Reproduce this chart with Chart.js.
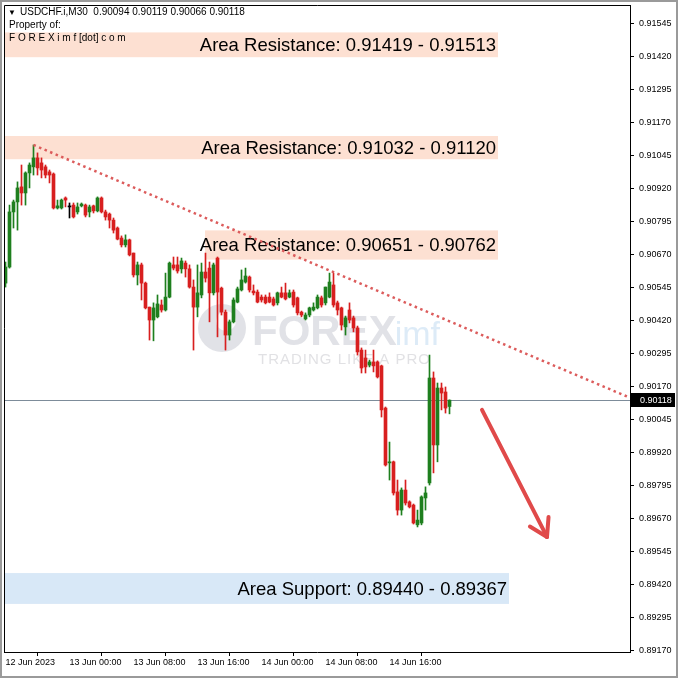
<!DOCTYPE html>
<html>
<head>
<meta charset="utf-8">
<script src="https://cdn.jsdelivr.net/npm/chart.js@4.4.0/dist/chart.umd.min.js"></script>
<style>
  html, body { margin: 0; padding: 0; background: #fff; }
  canvas { display: block; }
</style>
</head>
<body>
<canvas id="grafico" width="678" height="678"></canvas>
<script>
// USDCHF.i M30 - candles (index 0 = 12 Jun 16:00)
const opens = [
  0.90562, 0.90623, 0.90832, 0.90870, 0.90927, 0.90904, 0.90980, 0.91003, 0.91037, 0.91018,
  0.91003, 0.90984, 0.90976, 0.90847, 0.90847, 0.90885, 0.90851, 0.90858, 0.90832, 0.90855,
  0.90858, 0.90832, 0.90855, 0.90836, 0.90885, 0.90832, 0.90824, 0.90801, 0.90771, 0.90733,
  0.90707, 0.90726, 0.90676, 0.90593, 0.90631, 0.90562, 0.90471, 0.90422, 0.90434, 0.90479,
  0.90460, 0.90509, 0.90631, 0.90631, 0.90616, 0.90638, 0.90616, 0.90547, 0.90471, 0.90517,
  0.90604, 0.90619, 0.90525, 0.90657, 0.90543, 0.90452, 0.90365, 0.90415, 0.90490, 0.90536,
  0.90566, 0.90585, 0.90532, 0.90528, 0.90509, 0.90509, 0.90509, 0.90502, 0.90487, 0.90525,
  0.90525, 0.90509, 0.90528, 0.90506, 0.90452, 0.90426, 0.90441, 0.90460, 0.90468, 0.90506,
  0.90487, 0.90509, 0.90555, 0.90487, 0.90468, 0.90396, 0.90460, 0.90430, 0.90392, 0.90308,
  0.90278, 0.90251, 0.90263, 0.90263, 0.90248, 0.90088, 0.89880, 0.89884, 0.89770, 0.89701,
  0.89777, 0.89732, 0.89720, 0.89645, 0.89652, 0.89747, 0.89804, 0.90202, 0.89948, 0.90164,
  0.90149, 0.90094
];
const highs = [
  0.90642, 0.90858, 0.90877, 0.90946, 0.91010, 0.90984, 0.91018, 0.91086, 0.91056, 0.91037,
  0.91010, 0.90991, 0.90980, 0.90877, 0.90881, 0.90889, 0.90866, 0.90866, 0.90866, 0.90866,
  0.90862, 0.90858, 0.90858, 0.90889, 0.90889, 0.90839, 0.90828, 0.90809, 0.90775, 0.90741,
  0.90745, 0.90729, 0.90676, 0.90642, 0.90638, 0.90566, 0.90471, 0.90487, 0.90517, 0.90498,
  0.90600, 0.90642, 0.90661, 0.90661, 0.90657, 0.90646, 0.90631, 0.90574, 0.90631, 0.90638,
  0.90676, 0.90642, 0.90638, 0.90661, 0.90547, 0.90460, 0.90422, 0.90506, 0.90547, 0.90612,
  0.90619, 0.90589, 0.90555, 0.90536, 0.90517, 0.90517, 0.90525, 0.90509, 0.90528, 0.90547,
  0.90562, 0.90536, 0.90536, 0.90509, 0.90456, 0.90449, 0.90471, 0.90487, 0.90517, 0.90513,
  0.90547, 0.90600, 0.90600, 0.90494, 0.90471, 0.90437, 0.90487, 0.90437, 0.90399, 0.90316,
  0.90308, 0.90270, 0.90308, 0.90267, 0.90251, 0.90092, 0.89959, 0.89887, 0.89815, 0.89785,
  0.89815, 0.89736, 0.89724, 0.89701, 0.89755, 0.89789, 0.90289, 0.90225, 0.90183, 0.90183,
  0.90168, 0.90119
];
const lows = [
  0.90547, 0.90619, 0.90771, 0.90763, 0.90858, 0.90858, 0.90923, 0.90972, 0.90972, 0.90961,
  0.90961, 0.90942, 0.90843, 0.90843, 0.90843, 0.90851, 0.90809, 0.90809, 0.90824, 0.90851,
  0.90813, 0.90813, 0.90828, 0.90832, 0.90828, 0.90801, 0.90771, 0.90752, 0.90726, 0.90699,
  0.90699, 0.90665, 0.90585, 0.90555, 0.90498, 0.90464, 0.90346, 0.90343, 0.90430, 0.90452,
  0.90456, 0.90506, 0.90612, 0.90600, 0.90600, 0.90585, 0.90543, 0.90308, 0.90434, 0.90506,
  0.90566, 0.90415, 0.90517, 0.90358, 0.90441, 0.90308, 0.90346, 0.90411, 0.90487, 0.90532,
  0.90562, 0.90528, 0.90517, 0.90487, 0.90490, 0.90483, 0.90487, 0.90475, 0.90479, 0.90506,
  0.90498, 0.90506, 0.90471, 0.90441, 0.90434, 0.90422, 0.90434, 0.90456, 0.90464, 0.90471,
  0.90479, 0.90506, 0.90471, 0.90441, 0.90384, 0.90365, 0.90411, 0.90377, 0.90289, 0.90221,
  0.90221, 0.90244, 0.90225, 0.90202, 0.90054, 0.89868, 0.89815, 0.89758, 0.89682, 0.89682,
  0.89720, 0.89709, 0.89648, 0.89637, 0.89645, 0.89701, 0.89796, 0.89842, 0.89884, 0.90081,
  0.90069, 0.90066
];
const closes = [
  0.90623, 0.90832, 0.90870, 0.90923, 0.90904, 0.90980, 0.91010, 0.91037, 0.90999, 0.90991,
  0.90972, 0.90972, 0.90847, 0.90855, 0.90877, 0.90877, 0.90851, 0.90813, 0.90851, 0.90862,
  0.90820, 0.90851, 0.90836, 0.90885, 0.90832, 0.90813, 0.90801, 0.90763, 0.90729, 0.90707,
  0.90726, 0.90669, 0.90593, 0.90631, 0.90562, 0.90468, 0.90422, 0.90468, 0.90483, 0.90460,
  0.90509, 0.90638, 0.90619, 0.90608, 0.90646, 0.90616, 0.90547, 0.90471, 0.90525, 0.90604,
  0.90581, 0.90525, 0.90631, 0.90528, 0.90452, 0.90365, 0.90415, 0.90498, 0.90540, 0.90574,
  0.90589, 0.90536, 0.90525, 0.90490, 0.90498, 0.90487, 0.90490, 0.90479, 0.90525, 0.90509,
  0.90502, 0.90525, 0.90479, 0.90449, 0.90441, 0.90441, 0.90468, 0.90471, 0.90509, 0.90479,
  0.90547, 0.90566, 0.90479, 0.90460, 0.90403, 0.90430, 0.90422, 0.90392, 0.90301, 0.90240,
  0.90244, 0.90263, 0.90248, 0.90206, 0.90081, 0.89872, 0.89884, 0.89766, 0.89701, 0.89777,
  0.89728, 0.89713, 0.89652, 0.89663, 0.89751, 0.89766, 0.90202, 0.89948, 0.90164, 0.90145,
  0.90088, 0.90118
];

const timeTickIdx = [0, 16, 32, 48, 64, 80, 96];
const timeLabels = ["12 Jun 2023", "13 Jun 00:00", "13 Jun 08:00", "13 Jun 16:00",
                    "14 Jun 00:00", "14 Jun 08:00", "14 Jun 16:00"];
const priceTicks = [0.89170, 0.89295, 0.89420, 0.89545, 0.89670, 0.89795, 0.89920, 0.90045,
                    0.90170, 0.90295, 0.90420, 0.90545, 0.90670, 0.90795, 0.90920, 0.91045,
                    0.91170, 0.91295, 0.91420, 0.91545];

// zonas desenhadas
const zoneNames = ["Area Resistance", "Area Resistance", "Area Resistance", "Area Support"];
const zoneFrom = [0.91419, 0.91032, 0.90651, 0.89440];
const zoneTo = [0.91513, 0.91120, 0.90762, 0.89367];
const zoneLow = [0.91419, 0.91032, 0.90651, 0.89345];
const zoneHigh = [0.91513, 0.91120, 0.90762, 0.89462];
const zoneStart = [-0.375, -0.375, 49.875, -0.375];
const zoneEnd = [123.125, 123.125, 123.125, 125.875];
const zoneColors = ["#fde0d2", "#fde0d2", "#fde0d2", "#d8e8f7"];

const trendX = [7, 156.125];
const trendY = [0.91086, 0.90127];
const arrowX = [119.125, 135.375];
const arrowY = [0.90081, 0.89599];

const last = opens.length - 1;
const lastPrice = closes[last];

const GREEN = "#1e7f1e", RED = "#d81f1f", DOJI = "#000000";
const candleColor = opens.map((o, i) => closes[i] > o ? GREEN : (closes[i] < o ? RED : DOJI));

const overlay = {
    id: "overlay",
    beforeDatasetsDraw(chart) {
        const { ctx, chartArea: a, scales: { x, y } } = chart;
        ctx.save();
        ctx.beginPath();
        ctx.rect(a.left, a.top, a.right - a.left, a.bottom - a.top);
        ctx.clip();

        // marca d'agua
        ctx.fillStyle = "rgba(195,198,208,0.5)";
        ctx.beginPath();
        ctx.arc(222, 328, 24, 0, Math.PI * 2);
        ctx.fill();
        ctx.fillStyle = "rgba(255,255,255,0.85)";
        ctx.beginPath();
        ctx.arc(226, 321, 10, 0, Math.PI * 2);
        ctx.fill();
        ctx.font = "bold 42px 'Liberation Sans'";
        ctx.textAlign = "left";
        ctx.textBaseline = "alphabetic";
        ctx.fillStyle = "rgba(195,198,208,0.5)";
        ctx.fillText("FOREX", 252, 345);
        const fw = ctx.measureText("FOREX").width;
        ctx.font = "34px 'Liberation Sans'";
        ctx.fillStyle = "rgba(170,205,235,0.4)";
        ctx.fillText("imf", 250 + fw, 345);
        ctx.font = "15px 'Liberation Sans'";
        ctx.fillStyle = "rgba(205,205,210,0.6)";
        ctx.letterSpacing = "1px";
        ctx.fillText("TRADING LIKE A PRO", 258, 364);
        ctx.letterSpacing = "0px";

        // zonas
        zoneLow.forEach((lo, i) => {
            const x0 = x.getPixelForValue(zoneStart[i]);
            const x1 = x.getPixelForValue(zoneEnd[i]);
            const y0 = y.getPixelForValue(zoneHigh[i]);
            const y1 = y.getPixelForValue(lo);
            ctx.fillStyle = zoneColors[i];
            ctx.fillRect(x0, y0, x1 - x0, y1 - y0);
            ctx.fillStyle = "#000";
            ctx.font = "18.5px 'Liberation Sans'";
            ctx.textAlign = "right";
            ctx.textBaseline = "middle";
            ctx.fillText(`${zoneNames[i]}: ${zoneFrom[i].toFixed(5)} - ${zoneTo[i].toFixed(5)}`,
                x1 - 2, (y0 + y1) / 2 + 1);
        });

        // linha do preco atual
        const py = Math.round(y.getPixelForValue(lastPrice)) + 0.5;
        ctx.strokeStyle = "#7d8c9a";
        ctx.lineWidth = 1;
        ctx.beginPath();
        ctx.moveTo(a.left, py);
        ctx.lineTo(a.right, py);
        ctx.stroke();
        ctx.restore();
    },
    afterDatasetsDraw(chart) {
        const { ctx, scales: { x, y } } = chart;
        const tx = x.getPixelForValue(arrowX[1]), ty = y.getPixelForValue(arrowY[1]);
        const sx = x.getPixelForValue(arrowX[0]), sy = y.getPixelForValue(arrowY[0]);
        const ang = Math.atan2(ty - sy, tx - sx);
        ctx.save();
        ctx.strokeStyle = "#e04a4a";
        ctx.lineWidth = 4;
        ctx.lineCap = "round";
        [-0.55, 0.55].forEach(d => {
            ctx.beginPath();
            ctx.moveTo(tx, ty);
            ctx.lineTo(tx - 20 * Math.cos(ang + d), ty - 20 * Math.sin(ang + d));
            ctx.stroke();
        });
        ctx.restore();
    },
    afterDraw(chart) {
        const { ctx, chartArea: a, scales: { y } } = chart;
        ctx.save();
        // moldura
        ctx.strokeStyle = "#000";
        ctx.lineWidth = 1;
        ctx.beginPath();
        ctx.moveTo(a.left + 0.5, a.bottom);
        ctx.lineTo(a.left + 0.5, a.top + 0.5);
        ctx.lineTo(a.right, a.top + 0.5);
        ctx.stroke();
        ctx.strokeStyle = "#9a9a9a";
        ctx.lineWidth = 2;
        ctx.strokeRect(1, 1, 676, 676);

        // cabecalho
        ctx.fillStyle = "#000";
        ctx.textAlign = "left";
        ctx.textBaseline = "alphabetic";
        ctx.font = "8px 'Liberation Sans'";
        ctx.fillText("\u25BC", 8, 15);
        ctx.font = "10px 'Liberation Sans'";
        ctx.fillText(`USDCHF.i,M30  ${opens[last].toFixed(5)} ${highs[last].toFixed(5)} ${lows[last].toFixed(5)} ${closes[last].toFixed(5)}`, 20, 15);
        ctx.fillText("Property of:", 9, 28);
        ctx.fillText("F O R E X i m f [dot] c o m", 9, 41);

        // etiqueta do preco
        const py = Math.round(y.getPixelForValue(lastPrice));
        ctx.fillStyle = "#000";
        ctx.fillRect(a.right + 1, py - 7, 44, 14);
        ctx.fillStyle = "#fff";
        ctx.font = "9px 'Liberation Sans'";
        ctx.textBaseline = "middle";
        ctx.fillText(lastPrice.toFixed(5), a.right + 10, py + 0.5);
        ctx.restore();
    }
};

new Chart(document.getElementById("grafico").getContext("2d"), {
    type: "bar",
    data: {
        datasets: [
            {
                label: "wick",
                data: opens.map((o, i) => ({ x: i, y: [lows[i], highs[i]] })),
                backgroundColor: candleColor,
                barThickness: 1,
                grouped: false,
                minBarLength: 1,
                order: 3
            },
            {
                label: "body",
                data: opens.map((o, i) => ({ x: i, y: [o, closes[i]] })),
                backgroundColor: candleColor,
                barThickness: 3,
                grouped: false,
                minBarLength: 1,
                order: 2
            },
            {
                type: "line",
                label: "trend",
                data: trendX.map((v, i) => ({ x: v, y: trendY[i] })),
                borderColor: "#dc5c5c",
                borderWidth: 2.5,
                borderDash: [2.5, 3.5],
                pointRadius: 0,
                order: 1
            },
            {
                type: "line",
                label: "arrow",
                data: arrowX.map((v, i) => ({ x: v, y: arrowY[i] })),
                borderColor: "#e04a4a",
                borderWidth: 4,
                borderCapStyle: "round",
                pointRadius: 0,
                order: 0
            }
        ]
    },
    options: {
        responsive: false,
        animation: false,
        layout: { padding: { left: 4, top: 5, right: 0, bottom: 0 } },
        plugins: { legend: { display: false }, tooltip: { enabled: false } },
        scales: {
            x: {
                type: "linear",
                min: -0.375,
                max: 156.125,
                offset: false,
                border: { color: "#000" },
                grid: { drawOnChartArea: false, tickLength: 4, color: "#000" },
                afterBuildTicks: s => { s.ticks = timeTickIdx.map(v => ({ value: v })); },
                afterFit: s => { s.height = 26; s.paddingLeft = 0; s.paddingRight = 0; },
                ticks: {
                    autoSkip: false,
                    maxRotation: 0,
                    align: "start",
                    padding: 1,
                    color: "#000",
                    font: { family: "'Liberation Sans'", size: 9 },
                    callback: (v, i) => timeLabels[i]
                }
            },
            y: {
                position: "right",
                min: 0.891626,
                max: 0.916170,
                border: { color: "#000" },
                grid: { drawOnChartArea: false, tickLength: 4, color: "#000" },
                afterBuildTicks: s => { s.ticks = priceTicks.map(v => ({ value: v })); },
                afterFit: s => { s.width = 48; s.paddingTop = 0; s.paddingBottom = 0; },
                ticks: {
                    autoSkip: false,
                    padding: 5,
                    color: "#000",
                    font: { family: "'Liberation Sans'", size: 9 },
                    callback: v => v.toFixed(5)
                }
            }
        }
    },
    plugins: [overlay]
});
</script>
</body>
</html>
